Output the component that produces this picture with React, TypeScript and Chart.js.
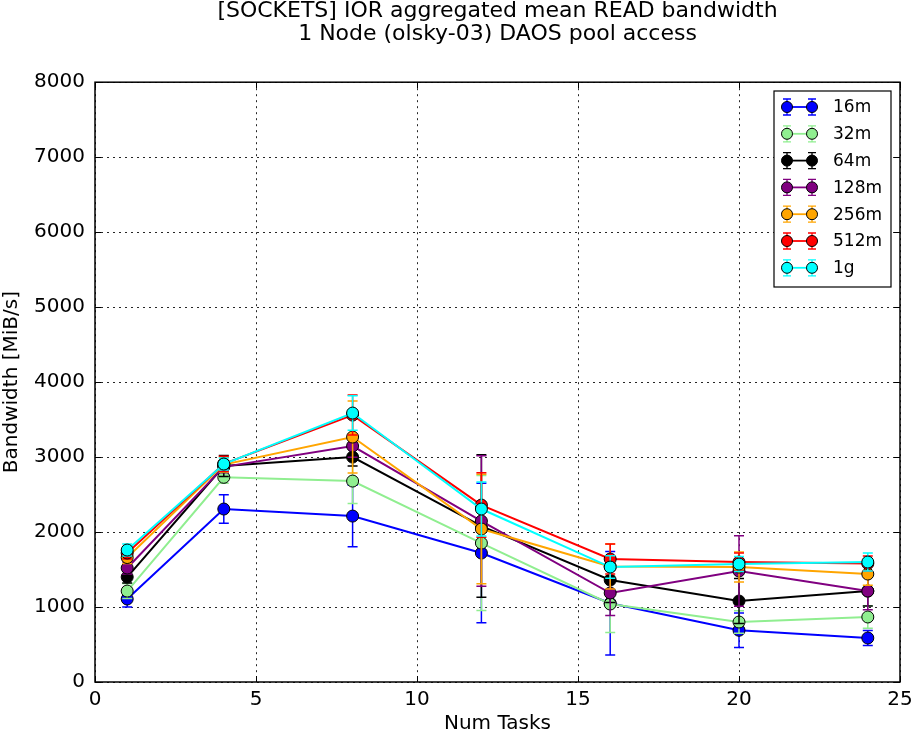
import React, { useEffect, useRef } from "react";
import { Chart, registerables } from "chart.js";

Chart.register(...registerables);

const numTasks = [1, 4, 8, 12, 16, 20, 24];

const labels = ["16m", "32m", "64m", "128m", "256m", "512m", "1g"];
const colors = ["#0000ff", "#90ee90", "#000000", "#800080", "#ffa500", "#ff0000", "#00ffff"];

const bw16m = [1107, 2307, 2213, 1720, 1050, 690, 587];
const bw32m = [1213, 2730, 2680, 1853, 1040, 800, 867];
const bw64m = [1400, 2880, 3000, 2080, 1360, 1080, 1213];
const bw128m = [1520, 2870, 3147, 2147, 1187, 1480, 1213];
const bw256m = [1660, 2900, 3267, 2040, 1540, 1533, 1440];
const bw512m = [1720, 2910, 3560, 2360, 1640, 1600, 1580];
const bw1g = [1760, 2907, 3587, 2307, 1533, 1573, 1600];

const err16m = [107, 190, 410, 930, 690, 230, 100];
const err32m = [100, 80, 300, 900, 380, 150, 150];
const err64m = [80, 140, 120, 950, 300, 300, 200];
const err128m = [80, 80, 150, 870, 300, 470, 250];
const err256m = [80, 100, 480, 730, 300, 200, 150];
const err512m = [80, 100, 267, 430, 200, 120, 100];
const err1g = [80, 80, 230, 360, 150, 100, 120];

const xTicks = [0, 5, 10, 15, 20, 25];
const yTicks = [0, 1000, 2000, 3000, 4000, 5000, 6000, 7000, 8000];

const titleLines = ["[SOCKETS] IOR aggregated mean READ bandwidth", "1 Node (olsky-03) DAOS pool access"];
const xLabel = "Num Tasks";
const yLabel = "Bandwidth [MiB/s]";

const values = [bw16m, bw32m, bw64m, bw128m, bw256m, bw512m, bw1g];
const errors = [err16m, err32m, err64m, err128m, err256m, err512m, err1g];

const FONT = "DejaVu Sans";

const errorBarPlugin = {
  id: "errorBars",
  beforeDatasetDraw(chart: any, args: any) {
    const ds = chart.data.datasets[args.index];
    const sIdx = ds.seriesIndex;
    const { ctx, chartArea, scales } = chart;
    const x = scales.x;
    const y = scales.y;
    ctx.save();
    ctx.beginPath();
    ctx.rect(chartArea.left, chartArea.top, chartArea.right - chartArea.left, chartArea.bottom - chartArea.top);
    ctx.clip();
    ctx.strokeStyle = colors[sIdx];
    ctx.lineWidth = 1.5;
    numTasks.forEach((xv, i) => {
      const px = x.getPixelForValue(xv);
      const v = values[sIdx][i];
      const e = errors[sIdx][i];
      const pt = y.getPixelForValue(v + e);
      const pb = y.getPixelForValue(v - e);
      ctx.beginPath();
      ctx.moveTo(px, pt);
      ctx.lineTo(px, pb);
      ctx.moveTo(px - 5, pt);
      ctx.lineTo(px + 5, pt);
      ctx.moveTo(px - 5, pb);
      ctx.lineTo(px + 5, pb);
      ctx.stroke();
    });
    ctx.restore();
  },
};

const framePlugin = {
  id: "frameLegend",
  afterDraw(chart: any) {
    const { ctx, chartArea, scales } = chart;
    const { left, right, top, bottom } = chartArea;
    ctx.save();
    ctx.strokeStyle = "#000";
    ctx.lineWidth = 1;
    ctx.beginPath();
    xTicks.forEach((t) => {
      const px = Math.round(scales.x.getPixelForValue(t)) + 0.5;
      ctx.moveTo(px, bottom);
      ctx.lineTo(px, bottom - 6);
      ctx.moveTo(px, top);
      ctx.lineTo(px, top + 6);
    });
    yTicks.forEach((t) => {
      const py = Math.round(scales.y.getPixelForValue(t)) + 0.5;
      ctx.moveTo(left, py);
      ctx.lineTo(left + 6, py);
      ctx.moveTo(right, py);
      ctx.lineTo(right - 6, py);
    });
    ctx.stroke();
    ctx.lineWidth = 1.5;
    ctx.strokeRect(left, top, right - left, bottom - top);

    // legend
    const bx = 774, by = 91, bw = 117, bh = 196;
    ctx.fillStyle = "#fff";
    ctx.fillRect(bx, by, bw, bh);
    ctx.lineWidth = 1.2;
    ctx.strokeStyle = "#000";
    ctx.strokeRect(bx, by, bw, bh);
    ctx.font = `17px "${FONT}"`;
    ctx.textBaseline = "middle";
    ctx.textAlign = "left";
    labels.forEach((lab, i) => {
      const cy = 107 + i * 26.8;
      const x1 = 787, x2 = 812;
      ctx.strokeStyle = colors[i];
      ctx.lineWidth = 1.8;
      ctx.beginPath();
      ctx.moveTo(x1, cy);
      ctx.lineTo(x2, cy);
      ctx.stroke();
      ctx.lineWidth = 1.3;
      ctx.beginPath();
      [x1, x2].forEach((mx) => {
        ctx.moveTo(mx, cy - 8);
        ctx.lineTo(mx, cy + 8);
        ctx.moveTo(mx - 4, cy - 8);
        ctx.lineTo(mx + 4, cy - 8);
        ctx.moveTo(mx - 4, cy + 8);
        ctx.lineTo(mx + 4, cy + 8);
      });
      ctx.stroke();
      [x1, x2].forEach((mx) => {
        ctx.beginPath();
        ctx.arc(mx, cy, 5.5, 0, Math.PI * 2);
        ctx.fillStyle = colors[i];
        ctx.fill();
        ctx.lineWidth = 1;
        ctx.strokeStyle = "#000";
        ctx.stroke();
      });
      ctx.fillStyle = "#000";
      ctx.fillText(lab, 833, cy + 1);
    });
    ctx.restore();
  },
};

export default function App() {
  const ref = useRef<HTMLCanvasElement | null>(null);
  useEffect(() => {
    document.body.style.margin = "0";
    if (!ref.current) return;
    Chart.defaults.font.family = FONT;
    const datasets = labels
      .map((lab, i) => ({
        label: lab,
        seriesIndex: i,
        data: numTasks.map((x, j) => ({ x, y: values[i][j] })),
        borderColor: colors[i],
        backgroundColor: colors[i],
        borderWidth: 2,
        pointRadius: 6,
        pointBorderWidth: 1,
        pointBorderColor: "#000",
        pointBackgroundColor: colors[i],
        tension: 0,
        fill: false,
      }))
      .reverse();
    const chart = new Chart(ref.current, {
      type: "line",
      data: { datasets: datasets as any },
      options: {
        animation: false,
        responsive: false,
        devicePixelRatio: 1,
        layout: { padding: { top: 0, right: 12, left: 0, bottom: 0 } },
        plugins: {
          legend: { display: false },
          tooltip: { enabled: false },
          title: {
            display: true,
            fullSize: false,
            text: titleLines,
            color: "#000",
            font: { size: 22, family: FONT, weight: "normal", lineHeight: 1.05 },
            padding: { top: 0, bottom: 36 },
          },
        },
        scales: {
          x: {
            type: "linear",
            min: 0,
            max: 25,
            afterBuildTicks: (s: any) => {
              s.ticks = xTicks.map((v) => ({ value: v }));
            },
            afterFit: (s: any) => {
              s.height = 54;
              s.paddingRight = 0;
              s.paddingLeft = 0;
            },
            ticks: { color: "#000", font: { size: 20, family: FONT }, padding: 6, callback: (v: any) => String(v) },
            grid: { color: "rgba(0,0,0,0.85)", lineWidth: 1, drawTicks: false },
            border: { display: false, dash: [2, 4] },
            title: { display: true, text: xLabel, color: "#000", font: { size: 20, family: FONT }, padding: { top: 0, bottom: 0 } },
          },
          y: {
            type: "linear",
            min: 0,
            max: 8000,
            afterBuildTicks: (s: any) => {
              s.ticks = yTicks.map((v) => ({ value: v }));
            },
            afterFit: (s: any) => {
              s.width = 95;
            },
            ticks: { color: "#000", font: { size: 20, family: FONT }, padding: 10, callback: (v: any) => String(v) },
            grid: { color: "rgba(0,0,0,0.85)", lineWidth: 1, drawTicks: false },
            border: { display: false, dash: [2, 4] },
            title: { display: true, text: yLabel, color: "#000", font: { size: 20, family: FONT }, padding: { top: 0, bottom: 4 } },
          },
        },
      },
      plugins: [errorBarPlugin, framePlugin],
    });
    return () => chart.destroy();
  }, []);
  return (
    <div style={{ position: "absolute", left: 0, top: 0, width: 912, height: 736 }}>
      <canvas ref={ref} width={912} height={736} style={{ width: 912, height: 736 }} />
    </div>
  );
}
